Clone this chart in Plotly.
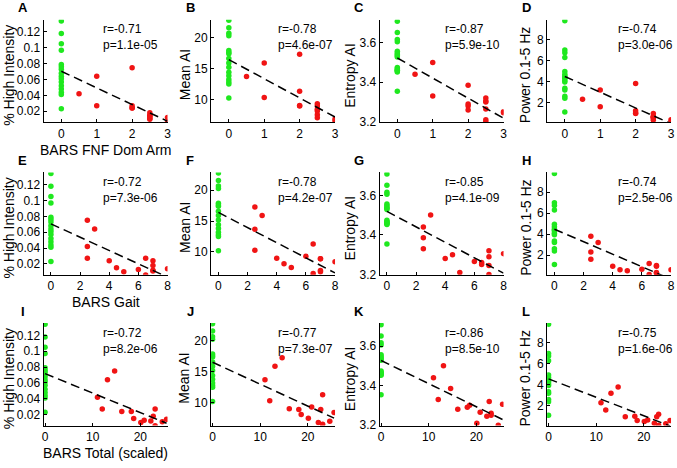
import numpy as np
import plotly.graph_objects as go

# ---------------- data ----------------
# controls (all at BARS score 0)
ctrl_hi = [0.134, 0.118, 0.105, 0.097, 0.079, 0.076, 0.073, 0.068, 0.064, 0.061,
           0.057, 0.052, 0.048, 0.044, 0.041, 0.023]
ctrl_mai = [22.8, 21.6, 20.7, 20.3, 17.9, 17.6, 17.4, 16.6, 15.9, 15.2,
            14.4, 13.8, 13.2, 12.8, 12.5, 10.2]
ctrl_ent = [3.708, 3.651, 3.616, 3.605, 3.556, 3.548, 3.540, 3.534, 3.528, 3.474,
            3.468, 3.462, 3.456, 3.452, 3.460, 3.354]
ctrl_pow = [9.8, 7.0, 6.75, 6.3, 4.95, 4.7, 4.5, 4.4, 4.3, 4.1,
            3.95, 3.35, 3.2, 2.6, 2.4, 1.1]

# patients
pat_fnf = [2, 1, 0.5, 1, 2, 2, 2.5, 2.5, 2.5, 3, 2.5, 2, 3, 2.5, 2.5]
pat_gait = [2.5, 3, 2.5, 2.5, 4, 7, 4.5, 5, 6, 7, 7, 6.5, 6.5, 7, 8]
pat_total = [14.6, 13.1, 11.0, 12.0, 16.1, 18.1, 18.6, 20.1, 20.8, 22.2, 22.7, 23.1, 23.1, 24.6, 25.5]
pat_hi = [0.075, 0.064, 0.042, 0.027, 0.024, 0.024, 0.015, 0.010, 0.013, 0.012,
          0.018, 0.027, 0.006, 0.011, 0.014]
pat_mai = [17.3, 15.9, 13.7, 10.3, 9.0, 8.9, 8.1, 7.5, 9.3, 6.8, 8.9, 11.3, 6.5, 7.0, 8.4]
pat_ent = [3.385, 3.50, 3.44, 3.33, 3.28, 3.29, 3.30, 3.21, 3.265, 3.245,
           3.32, 3.26, 3.25, 3.20, 3.305]
pat_pow = [3.8, 3.2, 2.3, 1.6, 0.95, 1.0, 0.6, 0.5, 0.65, 0.35, 0.95, 1.2, 0.15, 0.3, 0.6]

x_titles = ["BARS FNF Dom Arm", "BARS Gait", "BARS Total (scaled)"]
y_titles = ["% High Intensity", "Mean AI", "Entropy AI", "Power 0.1-5 Hz"]
panel_letters = ["A", "B", "C", "D", "E", "F", "G", "H", "I", "J", "K", "L"]
r_labels = ["r=-0.71", "r=-0.78", "r=-0.87", "r=-0.74",
            "r=-0.72", "r=-0.78", "r=-0.85", "r=-0.74",
            "r=-0.72", "r=-0.77", "r=-0.86", "r=-0.75"]
p_labels = ["p=1.1e-05", "p=4.6e-07", "p=5.9e-10", "p=3.0e-06",
            "p=7.3e-06", "p=4.2e-07", "p=4.1e-09", "p=2.5e-06",
            "p=8.2e-06", "p=7.3e-07", "p=8.5e-10", "p=1.6e-06"]
y_tickvals = [[0.02, 0.04, 0.06, 0.08, 0.1, 0.12], [10, 15, 20], [3.2, 3.4, 3.6], [2, 4, 6, 8]]
y_ticktext = [["0.02", "0.04", "0.06", "0.08", "0.1", "0.12"], ["10", "15", "20"],
              ["3.2", "3.4", "3.6"], ["2", "4", "6", "8"]]
x_tickvals = [[0, 1, 2, 3], [0, 2, 4, 6, 8], [0, 10, 20]]

ctrl_metrics = [ctrl_hi, ctrl_mai, ctrl_ent, ctrl_pow]
pat_metrics = [pat_hi, pat_mai, pat_ent, pat_pow]
pat_scores = [pat_fnf, pat_gait, pat_total]

# ---------------- layout geometry (pixels) ----------------
W, H = 677, 468
col_left = [42, 211, 381, 550]
col_w = 125
row_top = [20, 175, 328]
row_h = 104
x_ranges = [[-0.5, 3.0], [-0.5, 8.0], [-0.3, 25.7]]
y_ranges = [[0.0062, 0.1355], [6.3, 22.9], [3.198, 3.716], [0.12, 9.9]]
ytitle_off = [35, 27, 30, 22]
rtext_off = [59, 66, 65, 70]

GREEN = "#1fe81f"
RED = "#f01414"
FONT = "Liberation Sans, Arial, sans-serif"

def px_x(p):
    return p / W

def px_y(p):
    return 1 - p / H

fig = go.Figure()
layout = dict(width=W, height=H, margin=dict(l=0, r=0, t=0, b=0),
              paper_bgcolor="white", plot_bgcolor="white", showlegend=False,
              font=dict(family=FONT, color="black"))
annotations = []

for r in range(3):
    for c in range(4):
        k = r * 4 + c + 1
        xa = "x" if k == 1 else f"x{k}"
        ya = "y" if k == 1 else f"y{k}"
        xs_ctrl = [0] * len(ctrl_metrics[c])
        fig.add_trace(go.Scatter(x=xs_ctrl, y=ctrl_metrics[c], mode="markers",
                                 marker=dict(color=GREEN, size=5.5), xaxis=xa, yaxis=ya))
        fig.add_trace(go.Scatter(x=pat_scores[r], y=pat_metrics[c], mode="markers",
                                 marker=dict(color=RED, size=5.5), xaxis=xa, yaxis=ya))
        allx = np.array(xs_ctrl + list(pat_scores[r]), dtype=float)
        ally = np.array(list(ctrl_metrics[c]) + list(pat_metrics[c]), dtype=float)
        slope, icpt = np.polyfit(allx, ally, 1)
        lx = np.linspace(0, allx.max(), 50)
        fig.add_trace(go.Scatter(x=lx, y=icpt + slope * lx, mode="lines",
                                 line=dict(color="black", width=1.5, dash="9px,5px"),
                                 xaxis=xa, yaxis=ya))
        x0 = col_left[c]
        y0 = row_top[r]
        axis_common = dict(showline=True, linecolor="black", linewidth=1, showgrid=False,
                           zeroline=False, ticks="inside", ticklen=3, tickcolor="black",
                           tickfont=dict(family=FONT, size=12, color="black"))
        layout["xaxis" if k == 1 else f"xaxis{k}"] = dict(
            domain=[px_x(x0), px_x(x0 + col_w)], anchor=ya, range=x_ranges[r],
            tickmode="array", tickvals=x_tickvals[r], **axis_common)
        layout["yaxis" if k == 1 else f"yaxis{k}"] = dict(
            domain=[px_y(y0 + row_h), px_y(y0)], anchor=xa, range=y_ranges[c],
            tickmode="array", tickvals=y_tickvals[c], ticktext=y_ticktext[c], **axis_common)
        # panel letter
        annotations.append(dict(text="<b>" + panel_letters[k - 1] + "</b>", xref="paper", yref="paper",
                                x=px_x(x0 - 21), y=px_y(y0 - 12), xanchor="center", yanchor="middle",
                                showarrow=False, font=dict(family=FONT, size=13, color="black")))
        # y title
        annotations.append(dict(text=y_titles[c], xref="paper", yref="paper", textangle=-90,
                                x=px_x(x0 - ytitle_off[c]), y=px_y(y0 + row_h / 2 + 4),
                                xanchor="center", yanchor="middle", showarrow=False,
                                font=dict(family=FONT, size=14, color="black")))
        # r / p labels (one two-line block)
        annotations.append(dict(text=r_labels[k - 1] + "<br>" + p_labels[k - 1],
                                xref="paper", yref="paper", align="left",
                                x=px_x(x0 + rtext_off[c] - 1), y=px_y(y0 + 18), xanchor="left",
                                yanchor="middle", showarrow=False,
                                font=dict(family=FONT, size=12, color="black")))
    # x title under first column
    annotations.append(dict(text=x_titles[r], xref="paper", yref="paper",
                            x=px_x(col_left[0] + col_w / 2), y=px_y(row_top[r] + row_h + 28),
                            xanchor="center", yanchor="middle", showarrow=False,
                            font=dict(family=FONT, size=14, color="black")))

layout["annotations"] = annotations
fig.update_layout(**layout)
fig.write_html("out.html", config={"displayModeBar": False},
               post_script="document.body.style.margin='0px';document.body.style.overflow='hidden';")
